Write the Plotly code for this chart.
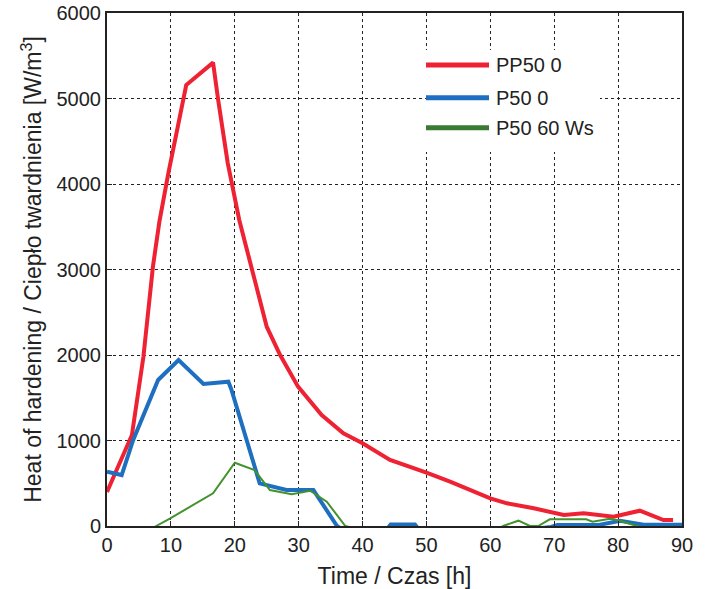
import plotly.graph_objects as go

# PP50 0 (red)
pp50_x = [0, 3.9, 5.7, 7.2, 8.2, 9.6, 12.4, 16.6, 17.4, 18.9, 20.7, 23.0, 25.0, 27.1, 29.9, 33.6,
          37.0, 40, 44.3, 50, 53.7, 60, 62.6, 66.8, 70.5, 71.5, 74.6, 79.3, 83.4, 87.1, 88.6]
pp50_y = [398, 1064, 1980, 3040, 3560, 4125, 5158, 5420, 4982, 4245, 3579, 2920, 2331, 2000, 1630, 1298,
          1084, 967, 772, 624, 518, 324, 265, 207, 148, 129, 148, 109, 179, 70, 70]

# P50 0 (blue)
p50_x = [0, 2.3, 4.1, 8.0, 11.2, 15.1, 19.0, 19.5, 23.9, 28.1, 32.3, 36.0, 39, 44.0, 44.4, 48.2, 48.6,
         55, 69.5, 70.5, 77, 80.3, 84, 90]
p50_y = [635, 596, 1006, 1708, 1942, 1661, 1688, 1590, 499, 421, 421, 0, -150, -20, 18, 18, -20,
         -150, -10, 12, 12, 62, 14, 14]

# P50 60 Ws (green)
p50ws_x = [6.0, 7.7, 9.9, 16.6, 20.0, 23.1, 25.5, 28.9, 31.8, 34.4, 37.3, 45, 60, 62, 64.4, 66.2, 67.5,
           69.3, 75, 76, 78.7, 80.3, 82.9, 86, 90]
p50ws_y = [-80, 0, 90, 382, 740, 655, 421, 371, 413, 284, 0, -150, -100, 0, 62, 0, 0,
           78, 78, 50, 85, 62, 0, -50, -50]

series_names = ["PP50 0", "P50 0", "P50 60 Ws"]
x_ticks = [0, 10, 20, 30, 40, 50, 60, 70, 80, 90]
y_ticks = [0, 1000, 2000, 3000, 4000, 5000, 6000]

RED = "#ee2233"
BLUE = "#1f6fc0"
GREEN = "#43922e"
GREEN_LEG = "#3a7a35"

fig = go.Figure()
fig.add_trace(go.Scatter(x=pp50_x, y=pp50_y, mode="lines", name=series_names[0],
                         line=dict(color=RED, width=4), showlegend=False))
fig.add_trace(go.Scatter(x=p50_x, y=p50_y, mode="lines", name=series_names[1],
                         line=dict(color=BLUE, width=4), showlegend=False))
fig.add_trace(go.Scatter(x=p50ws_x, y=p50ws_y, mode="lines", name=series_names[2],
                         line=dict(color=GREEN, width=2), showlegend=False))

FONT = "Liberation Sans, Arial, sans-serif"

axis_common = dict(
    showline=True, linecolor="#222", linewidth=2, mirror=True,
    showgrid=True, gridcolor="#222", griddash="dot", gridwidth=1,
    zeroline=False, ticks="inside", ticklen=5, tickcolor="#222",
    tickfont=dict(family=FONT, size=20, color="#222"),
    automargin=False,
)

fig.update_xaxes(range=[0, 90], tickvals=x_ticks, ticktext=[str(v) for v in x_ticks],
                 title=dict(text="Time / Czas [h]", font=dict(family=FONT, size=23, color="#222"), standoff=14),
                 **axis_common)
fig.update_yaxes(range=[0, 6000], tickvals=y_ticks, ticktext=[str(v) for v in y_ticks],
                 title=dict(text="Heat of hardening / Ciepło twardnienia [W/m<sup>3</sup>]",
                            font=dict(family=FONT, size=23, color="#222"), standoff=8),
                 **axis_common)

# plot area in px: left 107, width 575, top 13, height 513
PW, PH = 575.0, 513.0


def px_x(sx):
    return (sx - 107) / PW


def px_y(sy):
    return (526 - sy) / PH


# manual legend (white box, long line samples, text)
shapes = [dict(type="rect", xref="paper", yref="paper", x0=px_x(426), x1=px_x(600),
               y0=px_y(152), y1=px_y(50), fillcolor="white", line=dict(width=0),
               layer="above")]
annotations = []
leg_colors = [RED, BLUE, GREEN_LEG]
leg_y = [65, 97.7, 127.7]
for name, col, py in zip(series_names, leg_colors, leg_y):
    yy = px_y(py)
    shapes.append(dict(type="line", xref="paper", yref="paper", x0=px_x(426), x1=px_x(489),
                       y0=yy, y1=yy, line=dict(color=col, width=5), layer="above"))
    annotations.append(dict(xref="paper", yref="paper", x=px_x(494), y=yy, text=name,
                            showarrow=False, xanchor="left", yanchor="middle",
                            font=dict(family=FONT, size=20, color="#222")))

fig.update_layout(
    width=707, height=589,
    margin=dict(l=107, r=25, t=13, b=63),
    paper_bgcolor="white", plot_bgcolor="white",
    shapes=shapes, annotations=annotations,
    showlegend=False,
)

fig.write_html("out.html", config={"displayModeBar": False},
               post_script="document.body.style.margin='0';")
